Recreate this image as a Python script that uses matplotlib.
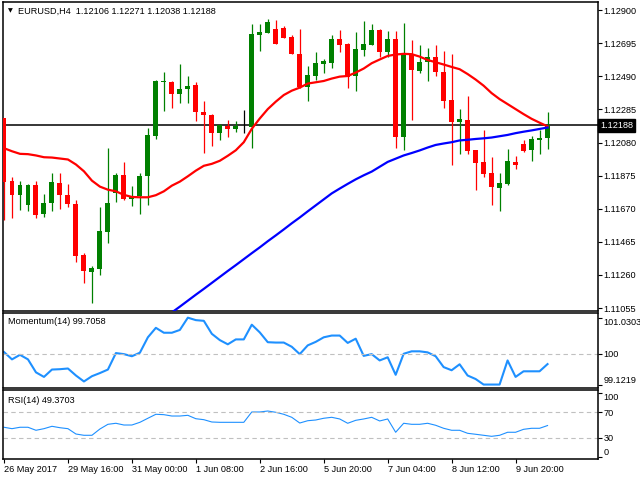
import numpy as np
import matplotlib.pyplot as plt
import matplotlib.transforms as mtransforms

plt.rcParams['font.family'] = ['Liberation Sans', 'DejaVu Sans']

# EURUSD H4 candles
opens = [1.12229, 1.11844, 1.11757, 1.11695, 1.11819, 1.11635, 1.11703, 1.11832, 1.11757, 1.11701,
         1.11385, 1.11281, 1.11300, 1.11529, 1.11765, 1.11882, 1.11728, 1.11747, 1.11871, 1.12119,
         1.12453, 1.12453, 1.12380, 1.12411, 1.12434, 1.12271, 1.12252, 1.12138, 1.12184, 1.12163,
         1.12182, 1.12175, 1.12747, 1.12759, 1.12782, 1.12788, 1.12734, 1.12629, 1.12424, 1.12492,
         1.12567, 1.12573, 1.12720, 1.12691, 1.12492, 1.12653, 1.12685, 1.12776, 1.12641, 1.12720,
         1.12113, 1.12622, 1.12523, 1.12579, 1.12608, 1.12517, 1.12343, 1.12206, 1.12217, 1.12032,
         1.11958, 1.11890, 1.11796, 1.11821, 1.11958, 1.12068, 1.12032, 1.12095, 1.12106]
highs = [1.12229, 1.11865, 1.11844, 1.11825, 1.11844, 1.11764, 1.11894, 1.11894, 1.11826, 1.11726,
         1.11397, 1.11318, 1.11683, 1.12049, 1.11894, 1.11962, 1.11813, 1.11894, 1.12173, 1.12465,
         1.12517, 1.12459, 1.12565, 1.12490, 1.12453, 1.12339, 1.12254, 1.12194, 1.12219, 1.12211,
         1.12281, 1.12815, 1.12815, 1.12846, 1.12840, 1.12803, 1.12747, 1.12784, 1.12554, 1.12641,
         1.12598, 1.12747, 1.12776, 1.12694, 1.12763, 1.12832, 1.12813, 1.12784, 1.12770, 1.12768,
         1.12819, 1.12714, 1.12685, 1.12666, 1.12685, 1.12647, 1.12629, 1.12287, 1.12368, 1.12035,
         1.12157, 1.11989, 1.11890, 1.12039, 1.11995, 1.12095, 1.12119, 1.12157, 1.12271]
lows = [1.11602, 1.11610, 1.11664, 1.11654, 1.11610, 1.11616, 1.11654, 1.11666, 1.11678, 1.11343,
        1.11213, 1.11089, 1.11262, 1.11455, 1.11710, 1.11722, 1.11685, 1.11635, 1.11691, 1.12101,
        1.12275, 1.12293, 1.12324, 1.12324, 1.12213, 1.12014, 1.12057, 1.12095, 1.12113, 1.12144,
        1.12138, 1.12045, 1.12647, 1.12755, 1.12688, 1.12725, 1.12626, 1.12420, 1.12337, 1.12465,
        1.12511, 1.12542, 1.12641, 1.12418, 1.12399, 1.12616, 1.12682, 1.12610, 1.12610, 1.12045,
        1.12031, 1.12219, 1.12511, 1.12461, 1.12492, 1.12293, 1.11939, 1.12008, 1.12008, 1.11784,
        1.11865, 1.11691, 1.11654, 1.11815, 1.11914, 1.12020, 1.11964, 1.12008, 1.12038]
closes = [1.11838, 1.11753, 1.11819, 1.11819, 1.11629, 1.11708, 1.11838, 1.11753, 1.11697, 1.11380,
          1.11287, 1.11304, 1.11534, 1.11708, 1.11882, 1.11728, 1.11751, 1.11875, 1.12124, 1.12459,
          1.12459, 1.12380, 1.12414, 1.12432, 1.12268, 1.12250, 1.12138, 1.12188, 1.12163, 1.12182,
          1.12182, 1.12753, 1.12762, 1.12825, 1.12691, 1.12728, 1.12629, 1.12424, 1.12496, 1.12571,
          1.12583, 1.12720, 1.12685, 1.12488, 1.12658, 1.12691, 1.12776, 1.12641, 1.12720, 1.12113,
          1.12622, 1.12529, 1.12579, 1.12608, 1.12517, 1.12337, 1.12206, 1.12223, 1.12026, 1.11952,
          1.11883, 1.11803, 1.11832, 1.11964, 1.11939, 1.12026, 1.12099, 1.12105, 1.12188]

# moving averages (red fast, blue slow)
ma_fast = [1.12045, 1.12026, 1.12010, 1.12008, 1.12000, 1.11989, 1.11987, 1.11981, 1.11975, 1.11944,
           1.11902, 1.11844, 1.11807, 1.11788, 1.11778, 1.11756, 1.11743, 1.11741, 1.11741, 1.11754,
           1.11778, 1.11813, 1.11838, 1.11871, 1.11906, 1.11936, 1.11948, 1.11967, 1.11998, 1.12032,
           1.12082, 1.12165, 1.12229, 1.12287, 1.12333, 1.12374, 1.12401, 1.12420, 1.12445, 1.12453,
           1.12461, 1.12476, 1.12488, 1.12492, 1.12513, 1.12538, 1.12571, 1.12594, 1.12616, 1.12625,
           1.12629, 1.12627, 1.12612, 1.12591, 1.12577, 1.12563, 1.12548, 1.12534, 1.12504, 1.12470,
           1.12432, 1.12386, 1.12349, 1.12318, 1.12287, 1.12256, 1.12227, 1.12203, 1.12180]
ma_slow = [np.nan] * 20 + [
           1.10994, 1.11028, 1.11064, 1.11101, 1.11138, 1.11174, 1.11211, 1.11248, 1.11285, 1.11321,
           1.11358, 1.11395, 1.11431, 1.11469, 1.11505, 1.11542, 1.11580, 1.11616, 1.11654, 1.11691,
           1.11728, 1.11765, 1.11795, 1.11824, 1.11852, 1.11877, 1.11900, 1.11930, 1.11960, 1.11980,
           1.12000, 1.12015, 1.12031, 1.12049, 1.12065, 1.12074, 1.12082, 1.12093, 1.12097, 1.12102,
           1.12106, 1.12111, 1.12119, 1.12127, 1.12138, 1.12147, 1.12155, 1.12164, 1.12173]

momentum = [100.05, 99.84, 99.97, 99.84, 99.47, 99.34, 99.55, 99.56, 99.58, 99.38,
            99.21, 99.36, 99.45, 99.55, 100.02, 99.99, 99.93, 100.03, 100.47, 100.74,
            100.60, 100.60, 100.68, 101.0303, 100.96, 100.94, 100.57, 100.39, 100.27, 100.41,
            100.41, 100.83, 100.61, 100.33, 100.32, 100.32, 100.20, 99.99, 100.24, 100.34,
            100.47, 100.52, 100.52, 100.31, 100.43, 99.94, 99.99, 99.81, 99.90, 99.40,
            100.00, 100.07, 100.07, 100.04, 99.93, 99.62, 99.53, 99.70, 99.38, 99.28,
            99.1219, 99.1219, 99.1219, 99.81, 99.34, 99.50, 99.50, 99.50, 99.7058]
rsi = [46.7, 44.5, 46.7, 46.7, 42.0, 44.5, 48.2, 46.0, 44.5, 36.2,
       34.2, 34.2, 44.0, 51.3, 52.9, 50.2, 50.2, 54.4, 60.7, 66.9,
       66.3, 64.2, 64.2, 65.3, 60.0, 58.5, 54.9, 54.4, 54.4, 54.4,
       54.4, 70.5, 70.5, 72.0, 70.0, 66.9, 62.2, 53.3, 56.9, 58.0,
       60.7, 62.2, 59.6, 52.9, 57.5, 59.6, 62.2, 56.5, 59.6, 38.9,
       52.9, 51.3, 51.3, 52.9, 49.8, 45.1, 42.0, 42.0, 37.3, 35.8,
       34.2, 32.6, 34.2, 38.9, 38.9, 43.5, 45.1, 45.1, 49.3703]

time_labels = ['26 May 2017', '29 May 16:00', '31 May 00:00', '1 Jun 08:00', '2 Jun 16:00',
               '5 Jun 20:00', '7 Jun 04:00', '8 Jun 12:00', '9 Jun 20:00']
time_idx = [0, 8, 16, 24, 32, 40, 48, 56, 64]
price_ticks = [1.12900, 1.12695, 1.12490, 1.12285, 1.12080, 1.11875, 1.11670, 1.11465, 1.11260, 1.11055]
last_price = 1.12188
mom_ticks = [99.1219, 100, 101.0303]
rsi_ticks = [0, 30, 70, 100]

FS = 6.6

o = np.array(opens); h = np.array(highs); l = np.array(lows); c = np.array(closes)
x = np.arange(len(o))

fig = plt.figure(figsize=(6.4, 4.8), dpi=100)
W, H = 640, 480
def box(x0, y0, x1, y1):
    return [x0 / W, 1 - y1 / H, (x1 - x0) / W, (y1 - y0) / H]

ax = fig.add_axes(box(3, 2, 597.5, 311))
ax_m = fig.add_axes(box(3, 312.7, 597.5, 388.3))
ax_r = fig.add_axes(box(3, 390, 597.5, 459))

for a in (ax, ax_m, ax_r):
    a.set_xlim(-0.125, 74.25)
    a.yaxis.tick_right()
    a.tick_params(axis='y', length=3, width=0.8, pad=1.2, labelsize=FS, colors='black')
    a.tick_params(axis='x', length=0)
    a.set_xticks([])
    for s in a.spines.values():
        s.set_linewidth(1.1)
        s.set_color('black')

# candles
cols = np.where(c > o, '#008000', np.where(c < o, '#ff0000', '#000000'))
ax.vlines(x, l, h, colors=cols, linewidth=0.9, zorder=2)
body_lo = np.minimum(o, c)
body_h = np.maximum(np.abs(c - o), 0.00003)
ax.bar(x, body_h, bottom=body_lo, width=0.62, color=cols, linewidth=0, zorder=3)

ax.plot(x, ma_fast, color='#ff0000', linewidth=1.6, zorder=4)
ax.plot(x, ma_slow, color='#0000ff', linewidth=1.6, zorder=4)
ax.axhline(last_price, color='black', linewidth=1.1, zorder=1)

ax.set_ylim(1.11037, 1.12950)
ax.set_yticks(price_ticks)
ax.set_yticklabels(['%.5f' % p for p in price_ticks])
trans = mtransforms.blended_transform_factory(ax.transAxes, ax.transData)
ax.text(1.004, last_price, '1.12188', transform=trans, color='white', fontsize=FS,
        va='center', ha='left', bbox=dict(facecolor='black', edgecolor='black', pad=1.4))

fig.text(8 / W, 1 - 11 / H, '\u25bc', fontsize=4.5, va='center', ha='left', family='DejaVu Sans')
fig.text(18 / W, 1 - 11 / H, 'EURUSD,H4  1.12106 1.12271 1.12038 1.12188', fontsize=FS,
         va='center', ha='left')

# momentum
ax_m.plot(x, momentum, color='#1e90ff', linewidth=1.5)
ax_m.axhline(100, color='#c0c0c0', linewidth=0.8, linestyle=(0, (4, 3)))
ax_m.set_ylim(99.015, 101.172)
ax_m.set_yticks(mom_ticks)
ax_m.set_yticklabels(['99.1219', '100', '101.0303'])
ml = ax_m.get_yticklabels()
ml[0].set_va('bottom'); ml[2].set_va('top')
ax_m.text(0.008, 0.88, 'Momentum(14) 99.7058', transform=ax_m.transAxes, fontsize=FS,
          va='center', ha='left')

# rsi
ax_r.plot(x, rsi, color='#1e90ff', linewidth=0.8)
for lv in (30, 70):
    ax_r.axhline(lv, color='#c0c0c0', linewidth=0.8, linestyle=(0, (4, 3)))
ax_r.set_ylim(-2.7, 104.7)
ax_r.set_yticks(rsi_ticks)
ax_r.set_yticklabels([str(t) for t in rsi_ticks])
rl = ax_r.get_yticklabels()
rl[0].set_va('bottom'); rl[3].set_va('top')
ax_r.text(0.008, 0.85, 'RSI(14) 49.3703', transform=ax_r.transAxes, fontsize=FS,
          va='center', ha='left')

ax_r.set_xticks(time_idx)
ax_r.set_xticklabels(time_labels, ha='left')
ax_r.tick_params(axis='x', length=3, width=0.8, pad=1.5, labelsize=FS)

fig.savefig('out.png', dpi=100)
